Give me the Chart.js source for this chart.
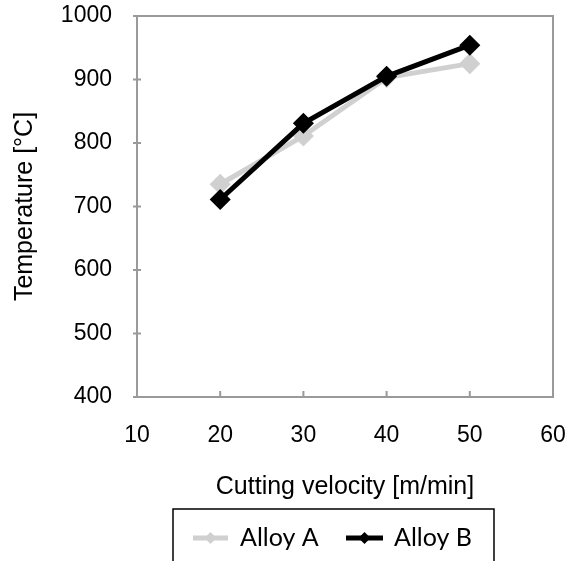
<!DOCTYPE html>
<html>
<head>
<meta charset="utf-8">
<script src="https://cdn.jsdelivr.net/npm/chart.js@4"></script>
<style>
  html, body { margin: 0; padding: 0; background: #fff; }
  #wrap { width: 574px; height: 561px; }
</style>
</head>
<body>
<div id="wrap"><canvas id="chart" width="574" height="561"></canvas></div>
<script>
const velocity = [20, 30, 40, 50];
const alloyA = [735, 811, 903, 925];
const alloyB = [711, 831, 905, 954];
const seriesNames = ['Alloy A', 'Alloy B'];
const seriesColors = ['#d0d0d0', '#000000'];

const axisColor = '#9a9a9a';
const tickFont = { family: 'Liberation Sans, Arial, sans-serif', size: 23 };
const titleFont = { family: 'Liberation Sans, Arial, sans-serif', size: 25 };

// box round the plot and the small tick marks
const frame = {
  id: 'frame',
  afterDatasetsDraw(chart) {
    const { ctx, chartArea: a, scales } = chart;
    ctx.save();
    ctx.strokeStyle = axisColor;
    ctx.lineWidth = 2;
    ctx.strokeRect(a.left, a.top, a.right - a.left, a.bottom - a.top);
    ctx.beginPath();
    scales.y.ticks.forEach(t => {
      const y = scales.y.getPixelForValue(t.value);
      ctx.moveTo(a.left - 4, y);
      ctx.lineTo(a.left + 4, y);
    });
    scales.x.ticks.forEach(t => {
      const x = scales.x.getPixelForValue(t.value);
      ctx.moveTo(x, a.bottom);
      ctx.lineTo(x, a.bottom - 6);
    });
    ctx.stroke();
    ctx.restore();
  }
};

// legend in a black box below the axis title
const boxLegend = {
  id: 'boxLegend',
  afterDraw(chart) {
    const ctx = chart.ctx;
    const items = [
      { x1: 193, x2: 228, tx: 240 },
      { x1: 346, x2: 383, tx: 394 }
    ];
    const cy = 538;
    ctx.save();
    ctx.strokeStyle = '#000';
    ctx.lineWidth = 1.5;
    ctx.strokeRect(173, 509, 494 - 173, 80);
    chart.data.datasets.forEach((ds, i) => {
      const it = items[i];
      ctx.strokeStyle = ds.borderColor;
      ctx.lineWidth = 5;
      ctx.beginPath();
      ctx.moveTo(it.x1, cy);
      ctx.lineTo(it.x2, cy);
      ctx.stroke();
      const mx = (it.x1 + it.x2) / 2, r = 6;
      ctx.fillStyle = ds.borderColor;
      ctx.beginPath();
      ctx.moveTo(mx, cy - r);
      ctx.lineTo(mx + r, cy);
      ctx.lineTo(mx, cy + r);
      ctx.lineTo(mx - r, cy);
      ctx.closePath();
      ctx.fill();
      ctx.fillStyle = '#000';
      ctx.font = '25px Lato, sans-serif';
      ctx.textBaseline = 'middle';
      ctx.fillText(ds.label, it.tx, cy);
    });
    ctx.restore();
  }
};

new Chart(document.getElementById('chart'), {
  type: 'line',
  data: {
    datasets: [
      {
        label: seriesNames[0],
        data: velocity.map((v, i) => ({ x: v, y: alloyA[i] })),
        borderColor: seriesColors[0],
        backgroundColor: seriesColors[0],
        borderWidth: 5,
        pointStyle: 'rectRot',
        pointRadius: 7,
        order: 1
      },
      {
        label: seriesNames[1],
        data: velocity.map((v, i) => ({ x: v, y: alloyB[i] })),
        borderColor: seriesColors[1],
        backgroundColor: seriesColors[1],
        borderWidth: 5,
        pointStyle: 'rectRot',
        pointRadius: 7,
        order: 0
      }
    ]
  },
  options: {
    responsive: false,
    animation: false,
    layout: { padding: { left: 0, right: 21, top: 16, bottom: 0 } },
    plugins: {
      legend: { display: false },
      tooltip: { enabled: false }
    },
    scales: {
      x: {
        type: 'linear',
        min: 10,
        max: 60,
        ticks: { stepSize: 10, color: '#000', font: tickFont, padding: 17, maxRotation: 0 },
        grid: { display: false },
        border: { display: false },
        title: {
          display: true,
          text: 'Cutting velocity [m/min]',
          color: '#000',
          font: titleFont,
          padding: { top: 0, bottom: 59 }
        },
        afterFit(scale) {
          scale.height = 164;
          scale.paddingLeft = 0;
          scale.paddingRight = 0;
        }
      },
      y: {
        min: 400,
        max: 1000,
        ticks: { stepSize: 100, color: '#000', font: tickFont, padding: 17, callback: v => String(v) },
        grid: { display: false },
        border: { display: false },
        title: {
          display: true,
          text: 'Temperature [°C]',
          color: '#000',
          font: titleFont,
          padding: { top: 10, bottom: 0 }
        },
        afterFit(scale) {
          scale.width = 137;
          scale.paddingTop = 0;
          scale.paddingBottom = 0;
        }
      }
    }
  },
  plugins: [frame, boxLegend]
});
</script>
</body>
</html>
